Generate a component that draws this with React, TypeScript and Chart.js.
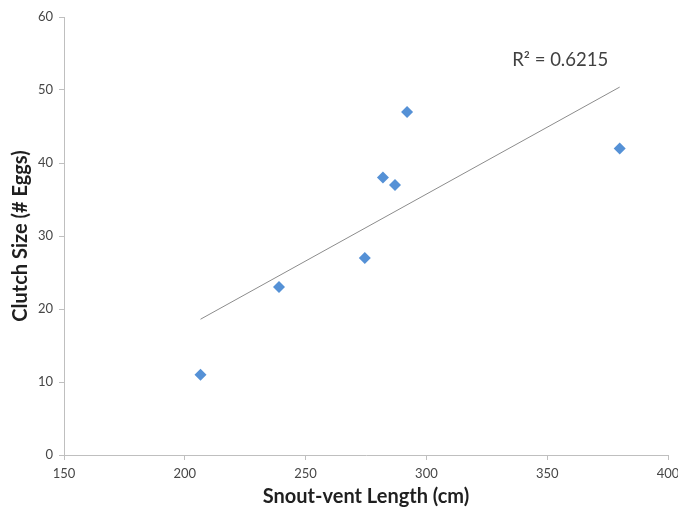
import React, { useEffect, useRef } from "react";
import { Chart, registerables } from "chart.js";

Chart.register(...registerables);

const snoutVentLength = [206.5, 239, 274.5, 282, 287, 292, 380];
const clutchSize = [11, 23, 27, 38, 37, 47, 42];
const trendX = [206.5, 380];
const trendY = [18.6, 50.4];
const rSquaredLabel = "R\u00B2 = 0.6215";
const labelPos = { x: 335.5, y: 54.1 };

const xTitle = "Snout-vent Length (cm)";
const yTitle = "Clutch Size (# Eggs)";

const FONT = "Lato, 'Open Sans', sans-serif";

const rLabelPlugin = {
  id: "rLabel",
  afterDatasetsDraw(chart: any) {
    const { ctx, scales } = chart;
    const px = scales.x.getPixelForValue(labelPos.x);
    const py = scales.y.getPixelForValue(labelPos.y);
    ctx.save();
    ctx.font = `18.5px ${FONT}`;
    ctx.fillStyle = "#404040";
    ctx.textAlign = "left";
    ctx.textBaseline = "middle";
    ctx.fillText(rSquaredLabel, px, py);
    ctx.restore();
  },
};

export default function App() {
  const ref = useRef<HTMLCanvasElement>(null);
  useEffect(() => {
    if (!ref.current) return;
    const chart = new Chart(ref.current, {
      type: "scatter",
      data: {
        datasets: [
          {
            label: "Clutch",
            data: snoutVentLength.map((x, i) => ({ x, y: clutchSize[i] })),
            pointStyle: "rectRot",
            pointRadius: 6,
            pointBackgroundColor: "#5591D6",
            pointBorderColor: "#5591D6",
            pointBorderWidth: 0,
            order: 1,
          },
          {
            label: "Trend",
            data: trendX.map((x, i) => ({ x, y: trendY[i] })),
            showLine: true,
            pointRadius: 0,
            borderColor: "#8C8C8C",
            borderWidth: 1,
            order: 2,
          },
        ],
      },
      options: {
        animation: false,
        responsive: false,
        maintainAspectRatio: false,
        layout: { padding: { top: 17, right: 10, left: 0, bottom: 0 } },
        plugins: { legend: { display: false }, tooltip: { enabled: false } },
        scales: {
          x: {
            type: "linear",
            min: 150,
            max: 400,
            afterFit: (s: any) => {
              s.height = 53;
              s.paddingRight = 0;
              s.paddingLeft = 0;
            },
            ticks: {
              stepSize: 50,
              color: "#474747",
              font: { family: FONT, size: 13 },
              padding: 6,
            },
            grid: {
              drawOnChartArea: false,
              drawTicks: true,
              tickLength: 5,
              color: "#BFBFBF",
            },
            border: { display: true, color: "#BFBFBF" },
            title: {
              display: true,
              text: xTitle,
              color: "#1F1F1F",
              font: { family: FONT, size: 20, weight: "bold" },
              padding: { top: 0, bottom: -1 },
            },
          },
          y: {
            type: "linear",
            min: 0,
            max: 60,
            afterFit: (s: any) => {
              s.width = 64;
              s.paddingTop = 0;
              s.paddingBottom = 0;
            },
            ticks: {
              stepSize: 10,
              color: "#474747",
              font: { family: FONT, size: 13 },
              padding: 6,
            },
            grid: {
              drawOnChartArea: false,
              drawTicks: true,
              tickLength: 5,
              color: "#BFBFBF",
            },
            border: { display: true, color: "#BFBFBF" },
            title: {
              display: true,
              text: yTitle,
              color: "#1F1F1F",
              font: { family: FONT, size: 20, weight: "bold" },
              padding: { top: 9, bottom: 0 },
            },
          },
        },
      },
      plugins: [rLabelPlugin],
    });
    return () => chart.destroy();
  }, []);
  return (
    <div style={{ position: "fixed", left: 0, top: 0, width: 678, height: 508, background: "#fff" }}>
      <canvas ref={ref} width={678} height={508} style={{ width: 678, height: 508 }} />
    </div>
  );
}
